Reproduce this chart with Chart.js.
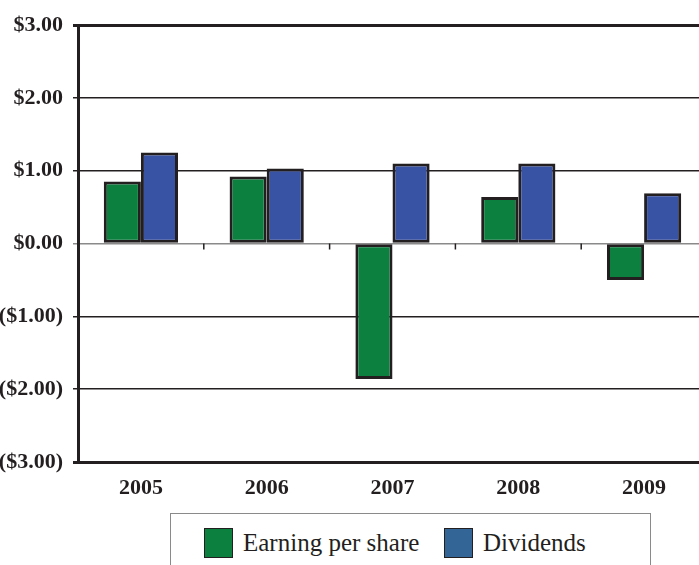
<!DOCTYPE html>
<html>
<head>
<meta charset="utf-8">
<script src="https://cdn.jsdelivr.net/npm/chart.js@4.4.1/dist/chart.umd.min.js"></script>
<style>
    body { margin: 0; width: 699px; height: 565px; overflow: hidden; background: #fff; position: relative; }
    #chart { position: absolute; left: 0; top: 0; }
    #legend {
        position: absolute; left: 170px; top: 513px; width: 481px; height: 80px;
        border: 1.5px solid #8a8a8a; box-sizing: border-box;
        font-family: "Liberation Serif", serif; font-size: 25px; color: #231f20;
    }
    .item { position: absolute; top: 14px; display: flex; align-items: center; }
    .swatch { width: 29px; height: 30px; border: 1px solid #231f20; box-sizing: border-box; margin-right: 10px; }
</style>
</head>
<body>
<canvas id="chart" width="707" height="505"></canvas>
<div id="legend"></div>
<script>
// values
const years = ['2005', '2006', '2007', '2008', '2009'];
const earnings = [0.85, 0.92, -1.86, 0.64, -0.50];
const dividends = [1.25, 1.03, 1.10, 1.10, 0.69];
const seriesNames = ['Earning per share', 'Dividends'];
const barColors = ['#0b803f', '#3852a4'];
const legendColors = ['#0b803f', '#336597'];
const yTicks = [-3, -2, -1, 0, 1, 2, 3];

const ink = '#231f20';

function money(v) {
    if (v < 0) return '($' + (-v).toFixed(2) + ')';
    return '$' + v.toFixed(2);
}

// small tick marks on the zero line between the years
const zeroTicks = {
    id: 'zeroTicks',
    afterDatasetsDraw(chart) {
        const x = chart.scales.x;
        const y0 = chart.scales.y.getPixelForValue(0);
        const ctx = chart.ctx;
        ctx.save();
        ctx.strokeStyle = ink;
        ctx.lineWidth = 1.5;
        for (let i = 1; i < years.length; i++) {
            const px = (x.getPixelForValue(i - 1) + x.getPixelForValue(i)) / 2;
            ctx.beginPath();
            ctx.moveTo(px, y0);
            ctx.lineTo(px, y0 + 6);
            ctx.stroke();
        }
        ctx.restore();
    }
};

new Chart(document.getElementById('chart'), {
    type: 'bar',
    data: {
        labels: years,
        datasets: [
            { label: seriesNames[0], data: earnings, backgroundColor: barColors[0], borderColor: ink, borderWidth: 3, borderSkipped: false },
            { label: seriesNames[1], data: dividends, backgroundColor: barColors[1], borderColor: ink, borderWidth: 3, borderSkipped: false }
        ]
    },
    options: {
        responsive: false,
        animation: false,
        layout: { padding: { top: 25, right: 0, bottom: 0, left: 0 } },
        categoryPercentage: 0.59,
        barPercentage: 1.0,
        plugins: { legend: { display: false }, tooltip: { enabled: false } },
        scales: {
            x: {
                grid: { display: false },
                border: { display: false },
                ticks: {
                    color: ink,
                    padding: 5,
                    font: { family: 'Liberation Serif', weight: 'bold', size: 22 }
                },
                afterFit(scale) { scale.height = 43; }
            },
            y: {
                min: -3,
                max: 3,
                afterBuildTicks(scale) { scale.ticks = yTicks.map(v => ({ value: v })); },
                afterFit(scale) { scale.width = 78; },
                border: { display: true, color: ink, width: 3 },
                grid: {
                    tickLength: 5,
                    color(ctx) {
                        if (ctx.tick && ctx.tick.value === 0) return '#8a8a8a';
                        return ink;
                    },
                    lineWidth(ctx) {
                        if (ctx.tick && Math.abs(ctx.tick.value) === 3) return 3;
                        return 1.5;
                    }
                },
                ticks: {
                    color: ink,
                    padding: 10,
                    font: { family: 'Liberation Serif', weight: 'bold', size: 22 },
                    callback: v => money(v)
                }
            }
        }
    },
    plugins: [zeroTicks]
});

// legend box below the chart
const legend = document.getElementById('legend');
const lefts = [33, 273];
seriesNames.forEach((name, i) => {
    const item = document.createElement('div');
    item.className = 'item';
    item.style.left = lefts[i] + 'px';
    item.innerHTML = '<span class="swatch" style="background:' + legendColors[i] + '"></span><span>' + name + '</span>';
    legend.appendChild(item);
});
</script>
</body>
</html>
